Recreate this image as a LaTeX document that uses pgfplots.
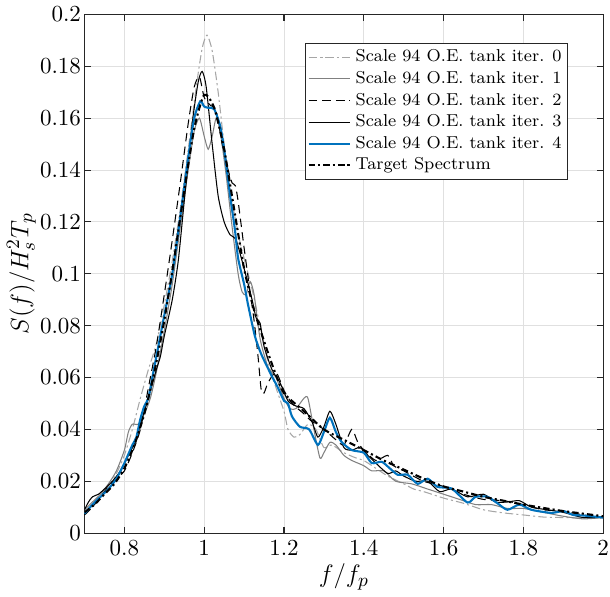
\documentclass[border=0pt]{standalone}
\usepackage{pgfplots}
\pgfplotsset{compat=1.18}
\definecolor{mblue}{RGB}{0,114,189}
\definecolor{axgray}{RGB}{38,38,38}
\begin{document}
\begin{tikzpicture}
\begin{axis}[
    width=247pt, height=247pt, scale only axis,
    xmin=0.7, xmax=2, ymin=0, ymax=0.2,
    xtick={0.8,1,...,2.01},
    ytick={0,0.02,...,0.201},
    scaled y ticks=false,
    yticklabel style={/pgf/number format/fixed, inner xsep=1.5pt},
    xticklabel style={/pgf/number format/fixed, inner xsep=0.5pt},
    tick label style={font=\fontsize{11}{13}\selectfont},
    label style={font=\fontsize{12.5}{15}\selectfont},
    xlabel={$f/f_p$}, ylabel={$S(f)/H_s^2T_p$},
    ylabel style={yshift=-3pt},
    xlabel style={yshift=3pt},
    grid=major,
    major grid style={line width=0.4pt, draw=black!12},
    axis line style={axgray, line width=0.5pt},
    tick style={axgray, line width=0.5pt},
    tick align=inside, major tick length=3pt,
    legend style={at={(0.933,0.945)}, anchor=north east, font=\fontsize{8.2}{9.5}\selectfont,
        draw=axgray, line width=0.5pt, inner sep=1pt, row sep=-1pt},
    legend cell align=left,
    legend image code/.code={\draw[mark repeat=2,mark phase=2,#1] plot coordinates {(0cm,0cm) (0.7cm,0cm)};},
    every axis plot/.append style={smooth, tension=0.4},
]
% iter 0
\addplot[black!35, line width=0.5pt, dash pattern=on 4pt off 1.5pt on 1pt off 1.5pt] coordinates {
(0.70,0.008)(0.73,0.012)(0.76,0.018)(0.78,0.023)(0.80,0.030)(0.82,0.040)(0.84,0.052)(0.86,0.063)(0.88,0.073)(0.90,0.088)(0.92,0.105)(0.94,0.125)(0.96,0.148)(0.98,0.172)(0.995,0.187)(1.007,0.192)(1.02,0.186)(1.035,0.170)(1.05,0.150)(1.07,0.128)(1.09,0.112)(1.10,0.106)(1.12,0.094)(1.14,0.080)(1.16,0.066)(1.18,0.056)(1.20,0.047)(1.21,0.040)(1.225,0.037)(1.24,0.038)(1.26,0.042)(1.28,0.040)(1.30,0.033)(1.32,0.034)(1.35,0.031)(1.38,0.029)(1.40,0.028)(1.43,0.025)(1.46,0.022)(1.50,0.019)(1.525,0.017)(1.55,0.016)(1.60,0.0135)(1.65,0.0115)(1.70,0.009)(1.75,0.0078)(1.80,0.007)(1.85,0.0062)(1.90,0.006)(1.95,0.0058)(2.00,0.0058)};
\addlegendentry{Scale 94 O.E. tank iter. 0}
% iter 1
\addplot[black!50, line width=0.5pt] coordinates {
(0.70,0.009)(0.72,0.012)(0.74,0.015)(0.76,0.019)(0.78,0.024)(0.80,0.032)(0.81,0.039)(0.82,0.042)(0.835,0.042)(0.85,0.046)(0.865,0.052)(0.88,0.062)(0.90,0.078)(0.92,0.096)(0.94,0.118)(0.96,0.140)(0.975,0.155)(0.988,0.160)(1.00,0.153)(1.01,0.148)(1.02,0.153)(1.03,0.160)(1.04,0.155)(1.055,0.138)(1.07,0.118)(1.085,0.100)(1.095,0.093)(1.105,0.092)(1.115,0.097)(1.125,0.092)(1.14,0.075)(1.16,0.064)(1.18,0.060)(1.20,0.052)(1.215,0.048)(1.23,0.048)(1.25,0.052)(1.26,0.052)(1.275,0.040)(1.29,0.029)(1.30,0.031)(1.315,0.035)(1.33,0.034)(1.35,0.030)(1.37,0.028)(1.40,0.026)(1.42,0.024)(1.45,0.024)(1.48,0.020)(1.52,0.019)(1.56,0.017)(1.60,0.015)(1.64,0.013)(1.68,0.011)(1.72,0.011)(1.76,0.0095)(1.80,0.0095)(1.85,0.008)(1.90,0.0065)(1.95,0.0055)(2.00,0.006)};
\addlegendentry{Scale 94 O.E. tank iter. 1}
% iter 2
\addplot[black, line width=0.5pt, dash pattern=on 4pt off 2.5pt] coordinates {
(0.70,0.007)(0.72,0.010)(0.74,0.014)(0.76,0.018)(0.78,0.021)(0.80,0.024)(0.82,0.031)(0.84,0.040)(0.86,0.056)(0.88,0.072)(0.90,0.092)(0.92,0.113)(0.94,0.135)(0.96,0.158)(0.975,0.172)(0.988,0.176)(1.00,0.168)(1.015,0.165)(1.03,0.163)(1.045,0.150)(1.06,0.140)(1.07,0.135)(1.078,0.134)(1.085,0.128)(1.10,0.110)(1.115,0.093)(1.125,0.082)(1.135,0.068)(1.143,0.055)(1.15,0.054)(1.16,0.058)(1.18,0.062)(1.20,0.055)(1.22,0.050)(1.25,0.046)(1.27,0.043)(1.30,0.040)(1.33,0.036)(1.35,0.034)(1.37,0.040)(1.385,0.035)(1.40,0.032)(1.43,0.028)(1.46,0.030)(1.475,0.026)(1.50,0.024)(1.55,0.020)(1.60,0.018)(1.65,0.015)(1.70,0.013)(1.75,0.0125)(1.80,0.011)(1.85,0.009)(1.90,0.0085)(1.95,0.007)(2.00,0.0062)};
\addlegendentry{Scale 94 O.E. tank iter. 2}
% iter 3
\addplot[black, line width=0.5pt] coordinates {
(0.70,0.009)(0.71,0.012)(0.72,0.014)(0.735,0.015)(0.75,0.017)(0.77,0.020)(0.79,0.024)(0.81,0.030)(0.83,0.036)(0.84,0.042)(0.86,0.052)(0.88,0.063)(0.89,0.068)(0.90,0.076)(0.92,0.090)(0.935,0.105)(0.95,0.128)(0.97,0.158)(0.985,0.174)(0.995,0.178)(1.005,0.172)(1.02,0.150)(1.035,0.130)(1.05,0.120)(1.065,0.115)(1.08,0.113)(1.10,0.102)(1.12,0.090)(1.13,0.083)(1.14,0.081)(1.15,0.072)(1.17,0.063)(1.19,0.058)(1.21,0.051)(1.23,0.049)(1.25,0.048)(1.27,0.043)(1.285,0.037)(1.30,0.041)(1.315,0.047)(1.33,0.042)(1.35,0.033)(1.37,0.032)(1.39,0.033)(1.41,0.030)(1.43,0.027)(1.46,0.023)(1.48,0.024)(1.50,0.022)(1.53,0.020)(1.56,0.020)(1.59,0.016)(1.62,0.017)(1.66,0.014)(1.70,0.015)(1.73,0.012)(1.76,0.012)(1.79,0.0125)(1.82,0.010)(1.86,0.009)(1.90,0.008)(1.95,0.006)(2.00,0.0062)};
\addlegendentry{Scale 94 O.E. tank iter. 3}
% iter 4
\addplot[mblue, line width=1pt] coordinates {
(0.70,0.0075)(0.72,0.011)(0.74,0.014)(0.76,0.017)(0.78,0.021)(0.80,0.027)(0.82,0.034)(0.83,0.037)(0.84,0.044)(0.85,0.049)(0.86,0.052)(0.87,0.060)(0.88,0.068)(0.90,0.084)(0.92,0.100)(0.94,0.122)(0.96,0.145)(0.975,0.160)(0.99,0.1665)(1.00,0.1645)(1.01,0.164)(1.025,0.1635)(1.04,0.157)(1.05,0.148)(1.065,0.130)(1.077,0.117)(1.085,0.106)(1.10,0.096)(1.11,0.088)(1.127,0.076)(1.143,0.069)(1.168,0.061)(1.185,0.056)(1.20,0.051)(1.21,0.050)(1.22,0.045)(1.24,0.041)(1.263,0.040)(1.285,0.034)(1.30,0.039)(1.315,0.0445)(1.33,0.039)(1.345,0.035)(1.37,0.032)(1.40,0.031)(1.42,0.027)(1.445,0.0275)(1.465,0.025)(1.485,0.0225)(1.51,0.0225)(1.535,0.019)(1.56,0.021)(1.585,0.0178)(1.62,0.0172)(1.66,0.0118)(1.68,0.014)(1.71,0.014)(1.735,0.0115)(1.76,0.009)(1.79,0.011)(1.82,0.009)(1.87,0.0078)(1.90,0.0085)(1.925,0.007)(1.95,0.0068)(2.00,0.006)};
\addlegendentry{Scale 94 O.E. tank iter. 4}
% target
\addplot[black, line width=1pt, dash pattern=on 3pt off 1.5pt on 1pt off 1.5pt] coordinates {
(0.70,0.008)(0.725,0.011)(0.75,0.015)(0.775,0.019)(0.80,0.025)(0.825,0.034)(0.85,0.046)(0.875,0.062)(0.90,0.082)(0.925,0.106)(0.95,0.132)(0.975,0.156)(1.00,0.169)(1.025,0.164)(1.05,0.148)(1.075,0.125)(1.10,0.102)(1.125,0.086)(1.15,0.074)(1.175,0.063)(1.20,0.054)(1.25,0.047)(1.30,0.040)(1.35,0.036)(1.40,0.032)(1.45,0.028)(1.50,0.0245)(1.55,0.021)(1.60,0.018)(1.65,0.016)(1.70,0.014)(1.75,0.0125)(1.80,0.011)(1.85,0.0097)(1.90,0.0085)(1.95,0.0075)(2.00,0.0065)};
\addlegendentry{Target Spectrum}
\end{axis}
\end{tikzpicture}
\end{document}
